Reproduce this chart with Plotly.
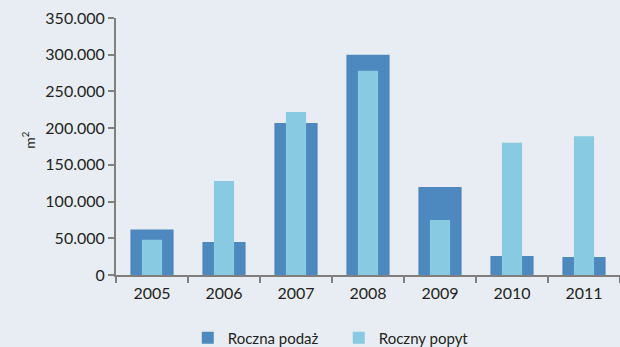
import plotly.graph_objects as go

# Annual office supply vs. demand (m²)
years = ["2005", "2006", "2007", "2008", "2009", "2010", "2011"]
podaz = [62000, 45000, 207000, 300000, 120000, 26000, 24500]
popyt = [48000, 128000, 222000, 278000, 75000, 180000, 189000]
y_ticks = [0, 50000, 100000, 150000, 200000, 250000, 300000, 350000]

BG = "#E8EDF4"
DARK = "#4D89BE"
LIGHT = "#88CAE1"
AXIS = "#7F7F7F"
TEXT = "#231F20"
FONT = "Lato"

fig = go.Figure()
fig.add_trace(go.Bar(
    x=years, y=podaz, name="Roczna podaż",
    marker=dict(color=DARK, line=dict(width=0)), width=0.6,
))
fig.add_trace(go.Bar(
    x=years, y=popyt, name="Roczny popyt",
    marker=dict(color=LIGHT, line=dict(width=0)), width=0.28,
))

fig.update_layout(
    width=620, height=347,
    margin=dict(l=116, r=0, t=18, b=72, autoexpand=False),
    paper_bgcolor=BG, plot_bgcolor=BG,
    barmode="overlay",
    separators=",.",
    font=dict(family=FONT, size=16, color=TEXT),
    showlegend=True,
    legend=dict(
        orientation="h", x=0.442, xanchor="center", y=-0.245, yanchor="middle",
        font=dict(size=15, color=TEXT), entrywidth=106, bgcolor="rgba(0,0,0,0)",
        traceorder="normal", itemsizing="constant",
    ),
    xaxis=dict(
        type="category", showline=True, linecolor=AXIS, linewidth=2,
        ticks="outside", tickson="boundaries", ticklen=6, tickwidth=2, tickcolor=AXIS,
        showgrid=False, tickfont=dict(size=16, color=TEXT), ticklabelstandoff=3,
    ),
    yaxis=dict(
        range=[0, 350000], tickvals=y_ticks, tickformat=",d",
        showline=True, linecolor=AXIS, linewidth=2,
        ticks="outside", ticklen=6, tickwidth=2, tickcolor=AXIS,
        showgrid=False, zeroline=False, tickfont=dict(size=16, color=TEXT),
    ),
    annotations=[dict(
        text="m<sup>2</sup>", xref="paper", yref="paper", x=-0.198, y=0.525,
        showarrow=False, textangle=-90, font=dict(size=14, color=TEXT),
    )],
)

fig.write_html("out.html")
